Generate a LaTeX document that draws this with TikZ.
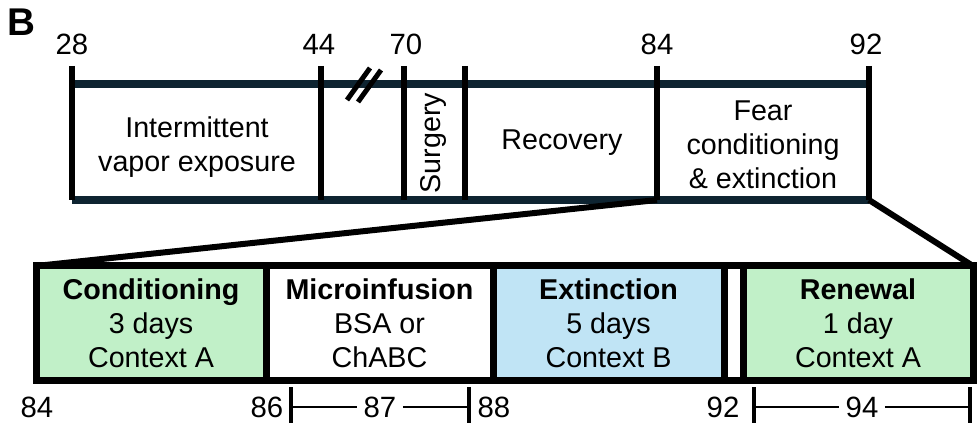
\documentclass[tikz,border=0pt]{standalone}
\usepackage{fontspec}
\setmainfont{Liberation Sans}
\usetikzlibrary{positioning}
\definecolor{barnavy}{HTML}{0E2431}
\definecolor{condgreen}{HTML}{C1F0C8}
\definecolor{extblue}{HTML}{C0E4F5}

\begin{document}
\begin{tikzpicture}[x=0.75pt, y=-0.75pt,
  every node/.style={font=\fontsize{21.5}{25.5}\selectfont, align=center, inner sep=0pt, outer sep=0pt},
  num/.style={font=\fontsize{22}{24}\selectfont},
  tick/.style={line width=4.5pt, black},
  bar/.style={line width=6pt, barnavy},
  cell/.style={draw=black, line width=5.25pt, fill=#1, minimum height=115*0.75pt,
    font=\fontsize{21.5}{25.5}\selectfont},
  zoomline/.style={line width=4.5pt, black, line join=miter},
  span/.style={line width=1.8pt, black}
]
\useasboundingbox (0,0) rectangle (979,423);

\node[font=\fontsize{29}{30}\selectfont\bfseries] (panel) at (21,22) {B};

% upper timeline
\coordinate (t28) at (72,66);
\coordinate (t44) at (321,66);
\coordinate (t70) at (404,66);
\coordinate (t72) at (465,66);
\coordinate (t84) at (657,66);
\coordinate (t92) at (869,66);

\draw[bar] (72,84) -- (869,84);
\draw[bar] (72,200) -- (869,200);
\foreach \t in {t28,t44,t70,t72,t84,t92}
  \draw[tick] (\t) -- ++(0,134) coordinate (\t b);

\node[num] (n28) at (72,44) {28};
\node[num] (n44) at (319,44) {44};
\node[num] (n70) at (406,44) {70};
\node[num] (n84) at (657,44) {84};
\node[num] (n92) at (866,44) {92};

% break mark
\draw[line width=3.75pt] (347,100) -- (370,68);
\draw[line width=3.75pt] (358,102) -- (381,70);

\node (vapor) at (197,147) {Intermittent\\vapor exposure};
\node[rotate=90] (surg) at (433,143) {Surgery};
\node (recov) at (562,143) {Recovery};
\node (fear) at (763,145) {Fear\\conditioning\\\& extinction};

% lower detail
\node[cell=condgreen, minimum width=230*0.75pt] (cond) at (151,323.5)
  {\textbf{Conditioning}\\3 days\\Context A};
\node[cell=white, minimum width=227*0.75pt] (micro) at (379.5,323.5)
  {\textbf{Microinfusion}\\BSA or\\ChABC};
\node[cell=extblue, minimum width=231*0.75pt] (ext) at (608.5,323.5)
  {\textbf{Extinction}\\5 days\\Context B};
\node[cell=condgreen, minimum width=230*0.75pt] (renew) at (858,323.5)
  {\textbf{Renewal}\\1 day\\Context A};
\node[draw=black, line width=5.25pt, minimum width=937*0.75pt, minimum height=115*0.75pt] (frame) at (504.5,323.5) {};

\draw[zoomline] (t84b) -- (frame.north west);
\draw[zoomline] (t92b) -- (frame.north east);

\node[num] (d84) at (37,407) {84};
\node[num] (d86) at (267,407) {86};
\node[num] (d88) at (494,407) {88};
\node[num] (d92) at (723,407) {92};

\node[num, inner sep=5pt] (d87) at (380,407) {87};
\coordinate (b87l) at (291,407);
\coordinate (b87r) at (469,407);
\draw[span] (b87l) -- (d87.west);
\draw[span] (d87.east) -- (b87r);
\draw[span, line width=2.4pt] ([yshift=-14]b87l) -- ([yshift=15]b87l);
\draw[span, line width=2.4pt] ([yshift=-14]b87r) -- ([yshift=15]b87r);

\node[num, inner sep=5pt] (d94) at (862,407) {94};
\coordinate (b94l) at (754,407);
\coordinate (b94r) at (970,407);
\draw[span] (b94l) -- (d94.west);
\draw[span] (d94.east) -- (b94r);
\draw[span, line width=2.4pt] ([yshift=-14]b94l) -- ([yshift=15]b94l);
\draw[span, line width=2.4pt] ([yshift=-14]b94r) -- ([yshift=15]b94r);
\end{tikzpicture}
\end{document}
